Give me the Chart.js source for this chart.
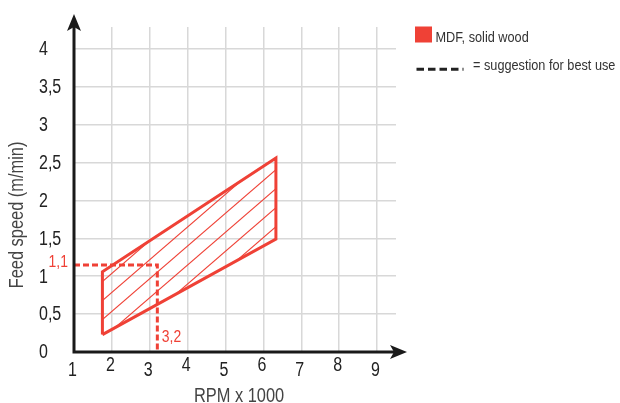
<!DOCTYPE html>
<html>
<head>
<meta charset="utf-8">
<script src="https://cdn.jsdelivr.net/npm/chart.js@4/dist/chart.umd.min.js"></script>
<style>
  html, body { margin: 0; padding: 0; background: #ffffff; }
  #wrap { width: 620px; height: 403px; }
</style>
</head>
<body>
<div id="wrap"><canvas id="c" width="620" height="403"></canvas></div>
<script>
// ---- data ----
const polygonRPM  = [1.75, 1.75, 6.33, 6.33, 1.75];
const polygonFeed = [0.23, 1.06, 2.56, 1.49, 0.23];
const bestRPM  = 3.2;
const bestFeed = 1.15;
const bestRPMLabel  = '3,2';
const bestFeedLabel = '1,1';
const xTickValues = [1, 2, 3, 4, 5, 6, 7, 8, 9];
const xTickLabels = ['1', '2', '3', '4', '5', '6', '7', '8', '9'];
const yTickValues = [0, 0.5, 1, 1.5, 2, 2.5, 3, 3.5, 4];
const yTickLabels = ['0', '0,5', '1', '1,5', '2', '2,5', '3', '3,5', '4'];
const xMin = 1, xMax = 9.5, yMin = 0, yMax = 4.29;
const seriesLabel = 'MDF, solid wood';
const suggestionLabel = '= suggestion for best use';
const xTitle = 'RPM x 1000';
const yTitle = 'Feed speed (m/min)';

// ---- styles ----
const RED = '#ef4136';
const FONT = '"Liberation Sans", Arial, sans-serif';
const NARROW = 0.82;

// condensed text: draw Liberation Sans squeezed horizontally
function txt(ctx, s, x, y, size, opts) {
  opts = opts || {};
  ctx.save();
  ctx.translate(x, y);
  if (opts.rotate) ctx.rotate(opts.rotate);
  ctx.scale(NARROW, 1);
  ctx.font = size + 'px ' + FONT;
  ctx.textAlign = opts.align || 'left';
  ctx.textBaseline = opts.baseline || 'alphabetic';
  ctx.fillStyle = opts.color || '#222';
  ctx.fillText(s, 0, 0);
  ctx.restore();
}

function makeHatch(color) {
  const w = 22, h = 19;
  const c = document.createElement('canvas');
  c.width = w; c.height = h;
  const g = c.getContext('2d');
  g.strokeStyle = color;
  g.lineWidth = 1.1;
  [[0,0],[-w,0],[w,0],[0,-h],[0,h]].forEach(([ox, oy]) => {
    g.beginPath();
    g.moveTo(ox, oy + h);
    g.lineTo(ox + w, oy);
    g.stroke();
  });
  const p = g.createPattern(c, 'repeat');
  if (p.setTransform) p.setTransform(new DOMMatrix([1, 0, 0, 1, 0, 9]));
  return p;
}

const polygonData = polygonRPM.map((x, i) => ({ x: x, y: polygonFeed[i] }));
const guideData = [{ x: xMin, y: bestFeed }, { x: bestRPM, y: bestFeed }, { x: bestRPM, y: yMin }];

const decorations = {
  id: 'decorations',
  afterDraw(chart) {
    const ctx = chart.ctx;
    const xs = chart.scales.x, ys = chart.scales.y;
    const area = chart.chartArea;
    const x0 = xs.getPixelForValue(xMin);
    const y0 = ys.getPixelForValue(yMin);
    ctx.save();

    // axes
    ctx.strokeStyle = '#1a1a1a';
    ctx.fillStyle = '#1a1a1a';
    ctx.lineWidth = 3;
    ctx.beginPath();
    ctx.moveTo(x0, y0 + 1.5);
    ctx.lineTo(x0, area.top - 6);
    ctx.moveTo(x0 - 1.5, y0);
    ctx.lineTo(area.right + 4, y0);
    ctx.stroke();
    // y arrow
    const ty = area.top - 13;
    ctx.beginPath();
    ctx.moveTo(x0, ty);
    ctx.lineTo(x0 + 7, ty + 17);
    ctx.lineTo(x0, ty + 13);
    ctx.lineTo(x0 - 7, ty + 17);
    ctx.closePath();
    ctx.fill();
    // x arrow
    const tx = area.right + 11;
    ctx.beginPath();
    ctx.moveTo(tx, y0);
    ctx.lineTo(tx - 17, y0 - 7);
    ctx.lineTo(tx - 13, y0);
    ctx.lineTo(tx - 17, y0 + 7);
    ctx.closePath();
    ctx.fill();

    // tick labels
    xTickValues.forEach((v, i) => {
      const px = xs.getPixelForValue(v) - 1.5;
      const py = y0 + (i % 2 === 0 ? 19 : 14);
      txt(ctx, xTickLabels[i], px, py, 19.5, { align: 'center', baseline: 'middle', color: '#222' });
    });
    yTickValues.forEach((v, i) => {
      txt(ctx, yTickLabels[i], 39, ys.getPixelForValue(v) + 1, 19.5, { baseline: 'middle', color: '#222' });
    });

    // axis titles
    txt(ctx, xTitle, (x0 + area.right) / 2 + 4, 402, 20, { align: 'center', color: '#444' });
    txt(ctx, yTitle, 17, 215, 20, { align: 'center', baseline: 'middle', rotate: -Math.PI / 2, color: '#444' });

    // best-use value labels
    txt(ctx, bestFeedLabel, x0 - 6, ys.getPixelForValue(bestFeed) - 3, 17, { align: 'right', baseline: 'middle', color: RED });
    txt(ctx, bestRPMLabel, xs.getPixelForValue(bestRPM) + 4.5, y0 - 10, 17, { color: RED });

    // legend
    ctx.fillStyle = RED;
    ctx.fillRect(415, 26.5, 17, 16);
    txt(ctx, seriesLabel, 435.5, 41.5, 15.5, { color: '#333' });
    ctx.strokeStyle = '#222';
    ctx.lineWidth = 3;
    ctx.setLineDash([7.5, 4]);
    ctx.beginPath();
    ctx.moveTo(416.5, 69.3);
    ctx.lineTo(463.5, 69.3);
    ctx.stroke();
    ctx.setLineDash([]);
    txt(ctx, suggestionLabel, 473, 70, 15.5, { color: '#333' });

    ctx.restore();
  }
};

new Chart(document.getElementById('c'), {
  type: 'scatter',
  data: {
    datasets: [
      {
        label: 'guide',
        data: guideData,
        showLine: true,
        borderColor: RED,
        borderWidth: 3,
        borderDash: [6, 3],
        pointRadius: 0,
        fill: false,
        tension: 0
      },
      {
        label: seriesLabel,
        data: polygonData,
        showLine: true,
        borderColor: RED,
        borderWidth: 3,
        borderJoinStyle: 'miter',
        backgroundColor: makeHatch(RED),
        fill: 'shape',
        pointRadius: 0,
        tension: 0
      }
    ]
  },
  options: {
    responsive: false,
    animation: false,
    events: [],
    layout: { padding: { left: 74, right: 224, top: 27, bottom: 51 } },
    plugins: { legend: { display: false }, tooltip: { enabled: false } },
    scales: {
      x: {
        type: 'linear', min: xMin, max: xMax,
        grid: { color: '#d8d8d8', lineWidth: 1.5, drawTicks: false },
        border: { display: false },
        ticks: { display: false },
        afterBuildTicks: (s) => { s.ticks = xTickValues.map(v => ({ value: v })); }
      },
      y: {
        type: 'linear', min: yMin, max: yMax,
        grid: { color: '#d8d8d8', lineWidth: 1.5, drawTicks: false },
        border: { display: false },
        ticks: { display: false },
        afterBuildTicks: (s) => { s.ticks = yTickValues.map(v => ({ value: v })); }
      }
    }
  },
  plugins: [decorations]
});
</script>
</body>
</html>
